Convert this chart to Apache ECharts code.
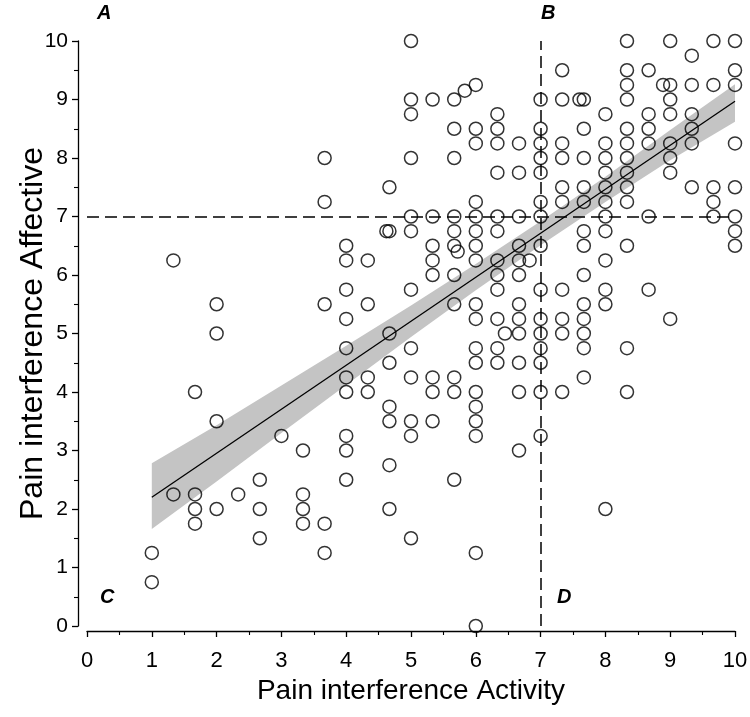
<!DOCTYPE html>
<html><head><meta charset="utf-8">
<script src="https://cdn.jsdelivr.net/npm/echarts@6.0.0/dist/echarts.min.js"></script>
<style>html,body{margin:0;padding:0;background:#fff}#c{width:750px;height:717px}</style>
</head><body><div id="c"></div>
<script>
// Scatter data: one x value per column, with the y values observed in that column
const columnX = [1, 1.333, 1.667, 2, 2.333, 2.667, 3, 3.333, 3.667, 4, 4.333, 4.62, 4.667, 5, 5.333, 5.667, 5.72, 5.83, 6, 6.333, 6.45, 6.667, 6.83, 7, 7.333, 7.6, 7.667, 8, 8.333, 8.667, 8.89, 9, 9.333, 9.667, 10];
const columnY = [
  [1.25, 0.75],
  [6.25, 2.25],
  [4, 2.25, 2, 1.75],
  [5.5, 5, 3.5, 2],
  [2.25],
  [2.5, 2, 1.5],
  [3.25],
  [3, 2.25, 2, 1.75],
  [8, 7.25, 5.5, 1.75, 1.25],
  [6.5, 6.25, 5.75, 5.25, 4.75, 4.25, 4, 3.25, 3, 2.5],
  [6.25, 5.5, 4.25, 4],
  [6.75],
  [7.5, 6.75, 5, 4.5, 3.75, 3.5, 2.75, 2],
  [10, 9, 8.75, 8, 7, 6.75, 5.75, 4.75, 4.25, 3.5, 3.25, 1.5],
  [9, 7, 6.5, 6.25, 6, 4.25, 4, 3.5],
  [9, 8.5, 8, 7, 6.75, 6.5, 6, 5.5, 4.25, 4, 2.5],
  [6.4],
  [9.15],
  [9.25, 8.5, 8.25, 7.25, 7, 6.75, 6.5, 6.25, 5.5, 5.25, 4.75, 4.5, 4, 3.75, 3.5, 3.25, 1.25, 0],
  [8.75, 8.5, 8.25, 7.75, 7, 6.75, 6.25, 6, 5.75, 5.25, 4.75, 4.5],
  [5],
  [8.25, 7.75, 7, 6.5, 6.25, 6, 5.5, 5.25, 5, 4.5, 4, 3],
  [6.25],
  [9, 8.5, 8.25, 8, 7.75, 7.25, 7, 6.5, 5.75, 5.25, 5, 4.75, 4.5, 4, 3.25],
  [9.5, 9, 8.25, 8, 7.5, 7.25, 5.75, 5.25, 5, 4],
  [9],
  [9, 8.5, 8, 7.5, 7.25, 6.75, 6.5, 6, 5.5, 5.25, 5, 4.75, 4.25],
  [8.75, 8.25, 8, 7.75, 7.5, 7.25, 7, 6.75, 6.25, 5.75, 5.5, 2],
  [10, 9.5, 9.25, 9, 8.5, 8.25, 8, 7.75, 7.5, 7.25, 6.5, 4.75, 4],
  [9.5, 8.75, 8.5, 8.25, 7, 5.75],
  [9.25],
  [10, 9.25, 9, 8.75, 8.25, 8, 7.75, 5.25],
  [9.75, 9.25, 8.75, 8.5, 8.25, 7.5],
  [10, 9.25, 7.5, 7.25, 7],
  [10, 9.5, 9.25, 8.25, 7.5, 7, 6.75, 6.5]
];
// Regression line end points and confidence band
const fitX = [1, 10];
const fitY = [2.2, 8.97];
const bandX = [1, 2, 3, 4, 5, 6, 7, 8, 9, 10];
const bandLow = [1.66, 2.47, 3.30, 4.12, 4.94, 5.74, 6.51, 7.25, 7.96, 8.62];
const bandHigh = [2.78, 3.43, 4.11, 4.79, 5.48, 6.19, 6.92, 7.68, 8.48, 9.26];
// Reference cut-offs
const refX = 7;
const refY = 7;
const axisMin = 0, axisMax = 10, axisStep = 1;
const xTitle = 'Pain interference Activity';
const yTitle = 'Pain interference Affective';
const panelLabels = ['A', 'B', 'C', 'D'];

const points = [];
columnX.forEach((x, i) => columnY[i].forEach(y => points.push([x, y])));
const fitData = fitX.map((x, i) => [x, fitY[i]]);

const FONT = 'Liberation Sans, Arial, sans-serif';
const chart = echarts.init(document.getElementById('c'), null, {renderer: 'canvas'});
const labelStyle = {fontFamily: FONT, fontSize: 20, fontWeight: 'bold', fontStyle: 'italic', fill: '#000'};
chart.setOption({
  animation: false,
  backgroundColor: '#fff',
  grid: {left: 87, right: 15, top: 41, bottom: 91, containLabel: false, outerBoundsMode: 'none'},
  xAxis: {
    type: 'value', min: axisMin, max: axisMax, interval: axisStep, offset: 5,
    name: xTitle, nameLocation: 'middle', nameGap: 46, nameMoveOverlap: false,
    nameTextStyle: {fontFamily: FONT, fontSize: 28, color: '#000'},
    axisLine: {show: true, onZero: false, lineStyle: {color: '#000', width: 1.3}},
    axisTick: {show: true, length: 6, lineStyle: {color: '#000', width: 1.3}},
    minorTick: {show: true, splitNumber: 2, length: 4, lineStyle: {color: '#000', width: 1.1}},
    axisLabel: {fontFamily: FONT, fontSize: 22, color: '#000', margin: 19},
    splitLine: {show: false}
  },
  yAxis: {
    type: 'value', min: axisMin, max: axisMax, interval: axisStep, offset: 9,
    name: yTitle, nameLocation: 'middle', nameGap: 29, nameMoveOverlap: false,
    nameTextStyle: {fontFamily: FONT, fontSize: 32, color: '#000'},
    axisLine: {show: true, onZero: false, lineStyle: {color: '#000', width: 1.3}},
    axisTick: {show: true, length: 6, lineStyle: {color: '#000', width: 1.3}},
    minorTick: {show: true, splitNumber: 2, length: 4, lineStyle: {color: '#000', width: 1.1}},
    axisLabel: {fontFamily: FONT, fontSize: 21, color: '#000', margin: 10},
    splitLine: {show: false}
  },
  graphic: [
    {type: 'text', left: 97, top: 3, style: Object.assign({text: panelLabels[0]}, labelStyle)},
    {type: 'text', left: 541, top: 3, style: Object.assign({text: panelLabels[1]}, labelStyle)},
    {type: 'text', left: 100, top: 587, style: Object.assign({text: panelLabels[2]}, labelStyle)},
    {type: 'text', left: 557, top: 587, style: Object.assign({text: panelLabels[3]}, labelStyle)}
  ],
  series: [
    {type: 'custom', data: [0], silent: true, z: 1, clip: false,
     renderItem: function (params, api) {
       const upper = bandX.map((x, i) => api.coord([x, bandHigh[i]]));
       const lower = bandX.map((x, i) => api.coord([x, bandLow[i]])).reverse();
       return {type: 'polygon', shape: {points: upper.concat(lower)}, style: {fill: '#c4c4c4'}};
     }},
    {type: 'line', data: fitData, symbol: 'none', silent: true, z: 2, clip: false,
     lineStyle: {color: '#000', width: 1.3},
     markLine: {
       silent: true, symbol: 'none', label: {show: false},
       lineStyle: {color: '#000', width: 1.5, type: [12, 6]},
       data: [
         [{coord: [axisMin, refY]}, {coord: [axisMax, refY]}],
         [{coord: [refX, axisMin]}, {coord: [refX, axisMax]}]
       ]
     }},
    {type: 'scatter', data: points, symbol: 'circle', symbolSize: 13, z: 3, clip: false,
     itemStyle: {color: 'rgba(255,255,255,0)', borderColor: '#000', borderWidth: 1.5}}
  ]
});
</script></body></html>
